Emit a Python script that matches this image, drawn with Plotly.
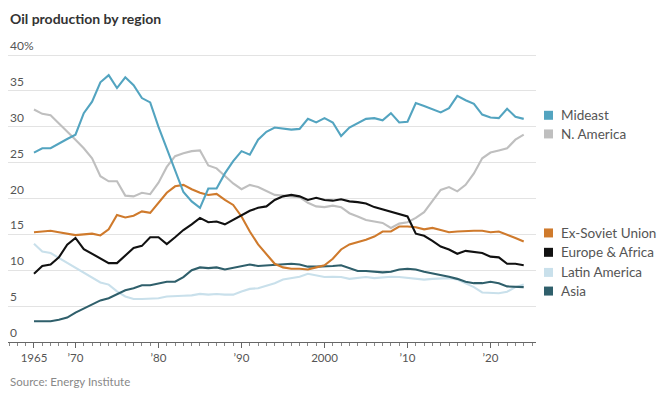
import plotly.graph_objects as go

years = list(range(1965, 2025))

mideast = [26.4, 27.0, 27.0, 27.7, 28.3, 28.9, 31.9, 33.5, 36.2, 37.2,
           35.4, 36.9, 35.8, 34.0, 33.4, 30.0, 26.9, 23.8, 20.9, 19.6,
           18.7, 21.4, 21.4, 23.5, 25.2, 26.6, 26.1, 28.2, 29.3, 29.9,
           29.7, 29.6, 29.7, 31.1, 30.6, 31.2, 30.6, 28.7, 29.9, 30.5,
           31.1, 31.2, 30.9, 31.9, 30.6, 30.7, 33.3, 32.9, 32.4, 32.0,
           32.6, 34.3, 33.7, 33.2, 31.7, 31.3, 31.2, 32.5, 31.4, 31.1]

n_america = [32.4, 31.8, 31.6, 30.5, 29.3, 28.2, 27.0, 25.6, 23.1, 22.4,
             22.4, 20.4, 20.3, 20.8, 20.6, 22.2, 24.4, 25.9, 26.3, 26.6,
             26.7, 24.6, 24.2, 23.1, 22.1, 21.3, 21.9, 21.6, 21.1, 20.5,
             20.4, 20.3, 20.2, 19.4, 18.9, 18.8, 19.0, 18.8, 17.95, 17.5,
             17.0, 16.8, 16.6, 15.9, 16.5, 16.7, 17.3, 18.1, 19.7, 21.2,
             21.6, 21.0, 21.9, 23.5, 25.6, 26.4, 26.7, 27.0, 28.2, 28.9]

ex_soviet = [15.3, 15.4, 15.5, 15.3, 15.1, 14.9, 15.0, 15.1, 14.85, 15.7,
             17.7, 17.35, 17.6, 18.2, 18.0, 19.4, 20.8, 21.7, 21.9, 21.3,
             20.8, 20.5, 20.65, 19.8, 19.1, 17.5, 15.4, 13.6, 12.2, 10.9,
             10.4, 10.2, 10.2, 10.1, 10.4, 10.7, 11.6, 12.9, 13.6, 13.9,
             14.25, 14.7, 15.4, 15.4, 16.1, 16.1, 16.0, 15.7, 15.9, 15.6,
             15.3, 15.4, 15.5, 15.5, 15.5, 15.3, 15.4, 15.0, 14.5, 14.0]

europe_africa = [9.5, 10.6, 10.8, 11.8, 13.55, 14.5, 12.95, 12.3, 11.7, 11.0,
                 11.0, 12.0, 13.1, 13.4, 14.6, 14.6, 13.65, 14.6, 15.6, 16.4,
                 17.3, 16.7, 16.8, 16.4, 17.0, 17.6, 18.3, 18.7, 18.9, 19.8,
                 20.3, 20.5, 20.3, 19.8, 20.1, 19.8, 19.7, 19.9, 19.6, 19.5,
                 19.3, 18.8, 18.5, 18.2, 17.9, 17.5, 15.1, 14.8, 14.1, 13.3,
                 12.9, 12.3, 12.7, 12.6, 12.4, 11.9, 11.8, 10.9, 10.9, 10.7]

latin_america = [13.7, 12.6, 12.4, 11.7, 11.0, 10.3, 9.6, 8.9, 8.3, 8.0,
                 7.05, 6.35, 6.0, 6.0, 6.1, 6.1, 6.35, 6.35, 6.45, 6.5,
                 6.7, 6.6, 6.7, 6.6, 6.6, 7.05, 7.4, 7.5, 7.85, 8.2,
                 8.7, 8.9, 9.1, 9.5, 9.24, 9.05, 9.1, 9.05, 8.8, 8.9,
                 9.05, 8.9, 9.05, 9.1, 9.05, 8.9, 8.8, 8.7, 8.8, 8.8,
                 8.9, 8.7, 8.2, 7.65, 6.9, 6.8, 6.8, 7.0, 7.65, 8.0]

asia = [2.9, 2.9, 2.9, 3.1, 3.4, 4.1, 4.7, 5.3, 5.8, 6.1,
        6.7, 7.2, 7.5, 7.9, 7.9, 8.1, 8.4, 8.4, 9.05, 10.0,
        10.4, 10.3, 10.4, 10.1, 10.3, 10.5, 10.8, 10.6, 10.7, 10.8,
        10.9, 10.9, 10.8, 10.5, 10.5, 10.5, 10.6, 10.7, 10.3, 9.9,
        9.9, 9.75, 9.7, 9.8, 10.1, 10.2, 10.1, 9.8, 9.6, 9.4,
        9.1, 8.8, 8.4, 8.2, 8.2, 8.4, 8.2, 7.75, 7.65, 7.65]

series_names = ["Mideast", "N. America", "Ex-Soviet Union",
                "Europe & Africa", "Latin America", "Asia"]
series_values = [mideast, n_america, ex_soviet, europe_africa, latin_america, asia]
colors = ["#53a4c0", "#bfbfbf", "#cf7a2c", "#111111", "#c9e0eb", "#2f5f6b"]

# legend label vertical positions (in data units, matched to the reference layout)
legend_levels = [31.6, 29.0, 15.2, 12.5, 9.7, 7.1]

y_tickvals = [0, 5, 10, 15, 20, 25, 30, 35, 40]
y_ticktext = ["0", "5", "10", "15", "20", "25", "30", "35", "40%"]
x_tickvals = [1965, 1970, 1980, 1990, 2000, 2010, 2020]
x_ticktext = ["1965", "\u201970", "\u201980", "\u201990", "2000", "\u201910", "\u201920"]

# page body has an 8px margin; figure is sized/offset to compensate
OFF = 8
W, H = 670 - OFF, 397 - OFF
plot_left, plot_right, plot_top, plot_bottom = 8, 536, 50, 342.3  # page px
L = plot_left - OFF
R = W - (plot_right - OFF)
T = plot_top - OFF
B = H - (plot_bottom - OFF)
x_range = [1961.87, 2025.48]
y_range = [0, 40.7]
pw = W - L - R
ph = H - T - B


def px_to_paper_x(px):
    return (px - plot_left) / pw


def px_to_paper_y(py):
    return (plot_bottom - py) / ph


fig = go.Figure()
draw_order = [4, 5, 1, 2, 0, 3]
for i in draw_order:
    fig.add_trace(go.Scatter(
        x=years, y=series_values[i], mode="lines", name=series_names[i],
        line=dict(color=colors[i], width=2.1), showlegend=False,
        hoverinfo="skip"))

lab = "Lato, sans-serif"

fig.update_layout(
    width=W, height=H,
    margin=dict(l=L, r=R, t=T, b=B, pad=0, autoexpand=False),
    paper_bgcolor="white", plot_bgcolor="white",
    font=dict(family=lab, size=12, color="#555555"),
    xaxis=dict(
        range=x_range, tickvals=x_tickvals, ticktext=x_ticktext,
        showgrid=False, zeroline=False, showline=True, automargin=False,
        linecolor="#666666", linewidth=1,
        ticks="outside", ticklen=5, tickcolor="#666666", tickwidth=1,
        minor=dict(dtick=1, tick0=1965, ticks="outside", ticklen=3,
                   tickcolor="#888888", showgrid=False),
        tickfont=dict(family=lab, size=11.5, color="#555555"),
    ),
    yaxis=dict(
        range=y_range, tickvals=y_tickvals, showticklabels=False,
        showgrid=True, gridcolor="#e3e3e3", gridwidth=1, automargin=False,
        zeroline=False, showline=False, ticks="",
    ),
)

for v, t in zip(y_tickvals, y_ticktext):
    fig.add_annotation(
        text=t, xref="paper", yref="y", x=0, y=v,
        xanchor="left", yanchor="bottom", showarrow=False,
        font=dict(family=lab, size=12, color="#555555"))

fig.add_annotation(
    text="<b>Oil production by region</b>", xref="paper", yref="paper",
    x=px_to_paper_x(8), y=px_to_paper_y(18),
    xanchor="left", yanchor="middle", showarrow=False,
    font=dict(family=lab, size=14, color="#333333"))

fig.add_annotation(
    text="Source: Energy Institute", xref="paper", yref="paper",
    x=px_to_paper_x(8), y=px_to_paper_y(382),
    xanchor="left", yanchor="middle", showarrow=False,
    font=dict(family=lab, size=11.5, color="#888888"))

sq_x0 = px_to_paper_x(544)
sq_x1 = px_to_paper_x(553)
txt_x = px_to_paper_x(559)
for name, col, lvl in zip(series_names, colors, legend_levels):
    yc = (lvl - y_range[0]) / (y_range[1] - y_range[0])
    half = 4.5 / ph
    fig.add_shape(type="rect", xref="paper", yref="paper",
                  x0=sq_x0, x1=sq_x1, y0=yc - half, y1=yc + half,
                  fillcolor=col, line=dict(width=0))
    fig.add_annotation(text=name, xref="paper", yref="paper",
                       x=txt_x, y=yc, xanchor="left", yanchor="middle",
                       showarrow=False,
                       font=dict(family=lab, size=13.5, color="#555555"))

fig.write_html("out.html")
